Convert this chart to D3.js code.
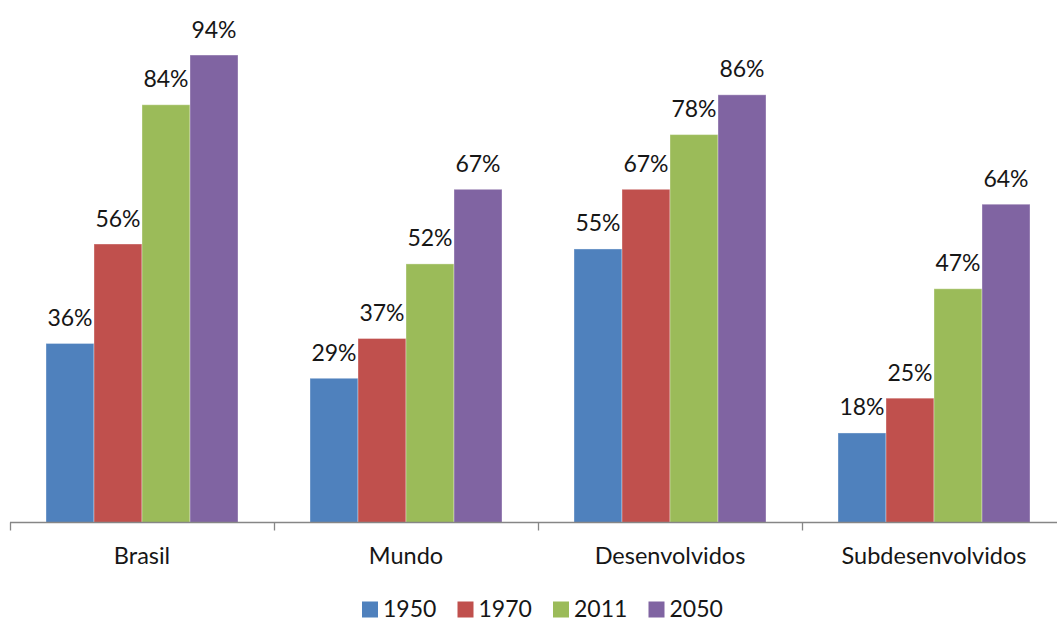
<!DOCTYPE html>
<html>
<head>
<meta charset="utf-8">
<script src="https://cdn.jsdelivr.net/npm/d3@7/dist/d3.min.js"></script>
<style>
  html, body { margin: 0; padding: 0; background: #fff; }
  svg { display: block; font-family: Lato, "Open Sans", sans-serif; }
</style>
</head>
<body>
<svg id="chart" width="1057" height="622"></svg>
<script>
// Urbanisation rate (%) by region and year
const categories = ["Brasil", "Mundo", "Desenvolvidos", "Subdesenvolvidos"];
const years = ["1950", "1970", "2011", "2050"];
const values1950 = [36, 29, 55, 18];
const values1970 = [56, 37, 67, 25];
const values2011 = [84, 52, 78, 47];
const values2050 = [94, 67, 86, 64];
const seriesValues = [values1950, values1970, values2011, values2050];
const colors = ["#4F81BD", "#C0504D", "#9BBB59", "#8064A2"];

const svg = d3.select("#chart");
const axisY = 522.5;

const x0 = d3.scaleBand().domain(categories).range([10, 1066]).paddingInner(0).paddingOuter(0);
// bars occupy the middle of each band with equal margins
const groupWidth = 192;
const x1 = d3.scaleBand().domain(years).range([0, groupWidth]).padding(0);
const y = d3.scaleLinear().domain([0, 100]).range([axisY, 25.2]);

const rows = categories.map((c, i) => ({
  category: c,
  values: years.map((yr, j) => ({ year: yr, value: seriesValues[j][i], color: colors[j] }))
}));

const groups = svg.selectAll("g.group").data(rows).join("g")
  .attr("class", "group")
  .attr("transform", d => `translate(${x0(d.category) + (x0.bandwidth() - groupWidth) / 2},0)`);

groups.selectAll("rect").data(d => d.values).join("rect")
  .attr("x", d => x1(d.year))
  .attr("y", d => y(d.value))
  .attr("width", x1.bandwidth())
  .attr("height", d => axisY - y(d.value))
  .attr("fill", d => d.color)
  .attr("stroke", "rgba(255,255,255,0.35)")
  .attr("stroke-width", 1);

groups.selectAll("text.val").data(d => d.values).join("text")
  .attr("class", "val")
  .attr("x", d => x1(d.year) + x1.bandwidth() / 2)
  .attr("y", d => y(d.value) - 17.5)
  .attr("text-anchor", "middle")
  .attr("font-size", 23)
  .attr("fill", "#161616")
  .text(d => d.value + "%");

// category axis
const axis = svg.append("g");
axis.append("line")
  .attr("x1", 10).attr("x2", 1057)
  .attr("y1", axisY).attr("y2", axisY)
  .attr("stroke", "#868686").attr("stroke-width", 1.3);
const boundaries = categories.map(c => x0(c));
axis.selectAll("line.tick").data(boundaries).join("line")
  .attr("class", "tick")
  .attr("x1", d => d + 0.5).attr("x2", d => d + 0.5)
  .attr("y1", axisY).attr("y2", axisY + 8)
  .attr("stroke", "#868686").attr("stroke-width", 1.3);
axis.selectAll("text").data(categories).join("text")
  .attr("x", d => x0(d) + x0.bandwidth() / 2)
  .attr("y", 563.5)
  .attr("text-anchor", "middle")
  .attr("font-size", 23.5)
  .attr("fill", "#161616")
  .text(d => d);

// legend
const legend = svg.append("g").attr("transform", "translate(362,0)");
const items = legend.selectAll("g").data(years).join("g")
  .attr("transform", (d, i) => `translate(${i * 95.5},0)`);
items.append("rect")
  .attr("x", 0).attr("y", 601.5)
  .attr("width", 16).attr("height", 16)
  .attr("fill", (d, i) => colors[i]);
items.append("text")
  .attr("x", 21).attr("y", 617)
  .attr("font-size", 23)
  .attr("fill", "#161616")
  .text(d => d);
</script>
</body>
</html>
